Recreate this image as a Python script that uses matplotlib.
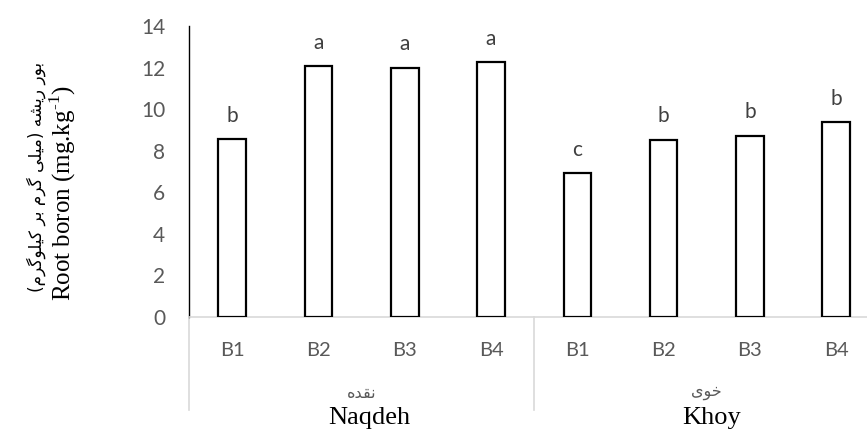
import matplotlib
matplotlib.use("Agg")
import matplotlib.pyplot as plt
from matplotlib.lines import Line2D

# ---- data ----
sites_en = ["Naqdeh", "Khoy"]
# Persian site names (visual-order Arabic presentation forms: نقده , خوی)
sites_fa = ["\uFEE9\uFEAA\uFED8\uFEE7", "\uFBFC\uFEEE\uFEA7"]
treatments = ["B1", "B2", "B3", "B4"]
naqdeh_vals = [8.55, 12.05, 12.0, 12.25]
khoy_vals = [6.9, 8.52, 8.7, 9.37]
naqdeh_letters = ["b", "a", "a", "a"]
khoy_letters = ["c", "b", "b", "b"]
yticks = [0, 2, 4, 6, 8, 10, 12, 14]

# Persian y label: بور ریشه (میلی گرم بر کیلوگرم) in visual order
fa_ylabel = ("(" + "\uFEE1\uFEAE\uFB94\uFEEE\uFEE0\uFBFF\uFB90" + " " + "\uFEAE\uFE91" + " "
             + "\uFEE1\uFEAE\uFB94" + " " + "\uFBFD\uFEE0\uFBFF\uFEE3" + ")" + " "
             + "\uFEEA\uFEB8\uFBFE\uFEAD" + " " + "\uFEAD\uFEEE\uFE91")

values = naqdeh_vals + khoy_vals
letters = naqdeh_letters + khoy_letters
labels = treatments + treatments
n = len(values)
xs = list(range(n))

W, H = 867, 432
fig = plt.figure(figsize=(W / 100, H / 100), dpi=100)
left_px, right_px = 189, 879.4
bot_px, top_px = 316.7, 26.0
ax = fig.add_axes([left_px / W, 1 - bot_px / H, (right_px - left_px) / W, (bot_px - top_px) / H])

ax.bar(xs, values, width=0.32, color="white", edgecolor="black", linewidth=1.6, zorder=3)
ax.set_xlim(-0.5, n - 0.5)
ax.set_ylim(0, 14)
ax.set_yticks(yticks)
ax.set_yticklabels([str(t) for t in yticks], fontsize=15, color="#595959", family="Lato")
ax.tick_params(axis="y", length=0, pad=17)
ax.tick_params(axis="x", length=0, labelbottom=False)

for side in ["top", "right"]:
    ax.spines[side].set_visible(False)
ax.spines["left"].set_color("black")
ax.spines["left"].set_linewidth(1.0)
ax.spines["bottom"].set_color("#d9d9d9")
ax.spines["bottom"].set_linewidth(1.2)

for x, v, l in zip(xs, values, letters):
    ax.annotate(l, (x, v), xytext=(0, 17), textcoords="offset points",
                ha="center", va="center", fontsize=15, color="#404040", family="Lato")

trans = ax.get_xaxis_transform()
# category tick labels
for x, l in zip(xs, labels):
    ax.text(x, -(350 - bot_px) / (bot_px - top_px), l, transform=trans, ha="center", va="center",
            fontsize=14.5, color="#595959", family="Lato")

# group separators
sep_bottom = -(410 - bot_px) / (bot_px - top_px)
for sx in [-0.5, 3.5, 7.5]:
    ax.add_line(Line2D([sx, sx], [0, sep_bottom], transform=trans, color="#d9d9d9",
                       linewidth=1.2, clip_on=False))

# group labels
group_centers = [1.5, 5.5]
en_offsets = [0.09, 0.06]
for gc, fa, en, off in zip(group_centers, sites_fa, sites_en, en_offsets):
    ax.text(gc, -(393 - bot_px) / (bot_px - top_px), fa, transform=trans, ha="center", va="center",
            fontsize=11.5, color="#595959", family="DejaVu Sans")
    ax.text(gc + off, -(418 - bot_px) / (bot_px - top_px), en, transform=trans, ha="center", va="center",
            fontsize=19, color="black", family="Liberation Serif")

# y labels
fig.text(36 / W, 1 - 177 / H, fa_ylabel, rotation=90, ha="center", va="center",
         fontsize=12.2, color="black", family="DejaVu Sans")
fig.text(63 / W, 1 - 193 / H, "Root boron (mg.kg$^{\\mathregular{\u20101}}$)", rotation=90,
         ha="center", va="center", fontsize=18, color="black", family="Liberation Serif")

fig.savefig("out.png", dpi=100)
